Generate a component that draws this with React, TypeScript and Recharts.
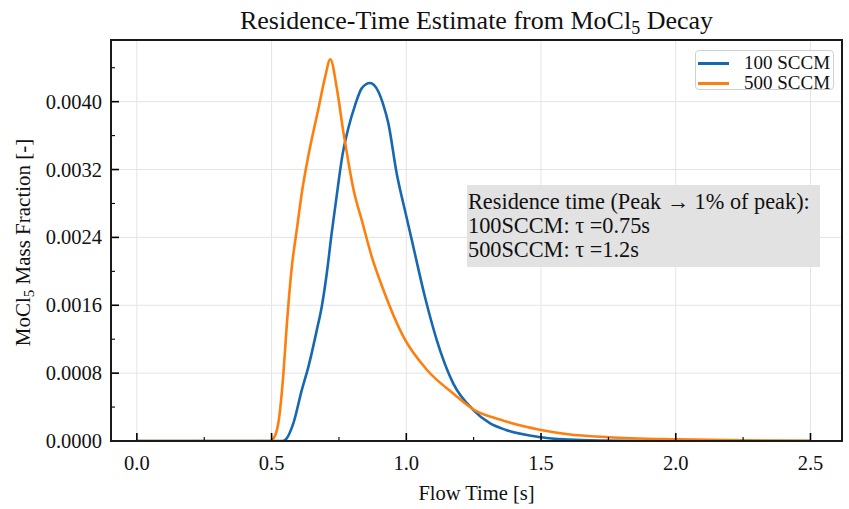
import React from "react";
import { LineChart, Line, XAxis, YAxis, CartesianGrid, Legend } from "recharts";

// ---- data ----
const series100Times = [0, 0.54, 0.55, 0.581, 0.612, 0.637, 0.668, 0.686, 0.705, 0.723, 0.742, 0.763, 0.785, 0.81, 0.835, 0.865, 0.896, 0.915, 0.933, 0.964, 1.0, 1.026, 1.069, 1.113, 1.174, 1.249, 1.31, 1.37, 1.5, 1.65, 1.8, 2.0, 2.5];
const series100Values = [0, 0, 0.00001, 0.00021, 0.0006, 0.00088, 0.00131, 0.00158, 0.00198, 0.00245, 0.0029, 0.00337, 0.00369, 0.00396, 0.00416, 0.00422, 0.00412, 0.00396, 0.00375, 0.00316, 0.00265, 0.00229, 0.0017, 0.00119, 0.00068, 0.000365, 0.00021, 0.00013, 0.000044, 0.00001, 0.000002, 0, 0];

const series500Times = [0, 0.495, 0.505, 0.525, 0.544, 0.556, 0.575, 0.594, 0.612, 0.637, 0.674, 0.698, 0.718, 0.742, 0.766, 0.785, 0.803, 0.835, 0.872, 0.915, 0.989, 1.076, 1.174, 1.25, 1.35, 1.5, 1.6, 1.75, 2.0, 2.25, 2.5];
const series500Values = [0, 0, 0.00002, 0.00021, 0.0008, 0.00135, 0.00205, 0.0025, 0.00292, 0.00337, 0.00392, 0.00428, 0.0045, 0.00416, 0.00365, 0.00329, 0.00298, 0.0026, 0.00217, 0.00178, 0.00123, 0.00084, 0.00056, 0.00037, 0.00025, 0.00013, 0.00008, 0.000045, 0.00002, 0.000008, 0.000003];

const seriesNames = ["100 SCCM", "500 SCCM"];
const seriesColors = ["#1668b0", "#ff7f0e"];

const xTickValues = [0, 0.25, 0.5, 0.75, 1.0, 1.25, 1.5, 1.75, 2.0, 2.25, 2.5];
const xMajorTicks = [0, 0.5, 1.0, 1.5, 2.0, 2.5];
const yTickSteps = [0, 1, 2, 3, 4, 5, 6, 7, 8, 9, 10, 11];
const yTickValues = yTickSteps.map((s) => (s * 4) / 10000);
const yMajorTicks = [0, 0.0008, 0.0016, 0.0024, 0.0032, 0.004];

const annotationLines = [
  "Residence time (Peak \u2192 1% of peak):",
  "100SCCM: \u03c4 =0.75s",
  "500SCCM: \u03c4 =1.2s",
];

const data100 = series100Times.map((t, i) => ({ t, v: series100Values[i] }));
const data500 = series500Times.map((t, i) => ({ t, v: series500Values[i] }));

const FONT = "'Liberation Serif', 'Times New Roman', serif";
const W = 849;
const H = 509;
const PLOT = { left: 111, top: 40, right: 842, bottom: 441 };

const isMajor = (v: number, majors: number[]) => majors.some((m) => Math.abs(m - v) < 1e-9);

const XTick = (props: any) => {
  const { x, y, payload } = props;
  const major = isMajor(payload.value, xMajorTicks);
  return (
    <g>
      <line x1={x} x2={x} y1={y} y2={y - (major ? 8 : 4)} stroke="#000" strokeWidth={major ? 1.6 : 1.1} />
      {major && (
        <text x={x} y={y + 29} textAnchor="middle" fontSize={20.5} fontFamily={FONT} fill="#111">
          {Number(payload.value).toFixed(1)}
        </text>
      )}
    </g>
  );
};

const YTick = (props: any) => {
  const { x, y, payload } = props;
  const major = isMajor(payload.value, yMajorTicks);
  return (
    <g>
      <line x1={x} x2={x + (major ? 8 : 4)} y1={y} y2={y} stroke="#000" strokeWidth={major ? 1.6 : 1.1} />
      {major && (
        <text x={x - 9} y={y + 7} textAnchor="end" fontSize={20.5} fontFamily={FONT} fill="#111">
          {Number(payload.value).toFixed(4)}
        </text>
      )}
    </g>
  );
};

const LegendBox = () => (
  <div
    style={{
      width: 139,
      height: 40,
      border: "1px solid #d0d0d0",
      borderRadius: 4,
      background: "rgba(255,255,255,0.9)",
      fontFamily: FONT,
      fontSize: 19,
      color: "#111",
      boxSizing: "border-box",
      position: "relative",
    }}
  >
    {seriesNames.map((name, i) => (
      <div key={name} style={{ position: "absolute", left: 0, top: 2 + i * 20, height: 20, width: 139 }}>
        <div style={{ position: "absolute", left: 2, top: 9, width: 31, height: 3, background: seriesColors[i] }} />
        <div style={{ position: "absolute", left: 48, top: -1, lineHeight: "22px", whiteSpace: "nowrap" }}>{name}</div>
      </div>
    ))}
  </div>
);

export default function App() {
  return (
    <div style={{ position: "fixed", left: 0, top: 0, width: W, height: H, background: "#fff" }}>
      <LineChart width={W} height={H} margin={{ top: PLOT.top, right: W - PLOT.right, left: 0, bottom: 0 }}>
        <CartesianGrid
          stroke="#e4e4e4"
          strokeWidth={1}
          horizontalValues={yMajorTicks}
          verticalValues={xMajorTicks}
        />
        <XAxis
          type="number"
          dataKey="t"
          domain={[-0.096, 2.617]}
          allowDataOverflow
          ticks={xTickValues}
          interval={0}
          tick={<XTick />}
          tickLine={false}
          axisLine={false}
          tickSize={0}
          tickMargin={0}
          height={H - PLOT.bottom}
        />
        <YAxis
          type="number"
          dataKey="v"
          domain={[0, 0.004727]}
          allowDataOverflow
          ticks={yTickValues}
          interval={0}
          tick={<YTick />}
          tickLine={false}
          axisLine={false}
          tickSize={0}
          tickMargin={0}
          width={PLOT.left}
        />
        <Line
          data={data100}
          dataKey="v"
          name={seriesNames[0]}
          type="monotone"
          stroke={seriesColors[0]}
          strokeWidth={2.6}
          dot={false}
          activeDot={false}
          isAnimationActive={false}
        />
        <Line
          data={data500}
          dataKey="v"
          name={seriesNames[1]}
          type="monotone"
          stroke={seriesColors[1]}
          strokeWidth={2.6}
          dot={false}
          activeDot={false}
          isAnimationActive={false}
        />
        <Legend
          layout="vertical"
          align="center"
          verticalAlign="middle"
          content={() => <LegendBox />}
          wrapperStyle={{ position: "absolute", left: 695, top: 50, width: 139, height: 40 }}
        />
      </LineChart>
      <svg
        width={W}
        height={H}
        style={{ position: "absolute", left: 0, top: 0, pointerEvents: "none" }}
      >
        <rect
          x={PLOT.left}
          y={PLOT.top}
          width={PLOT.right - PLOT.left}
          height={PLOT.bottom - PLOT.top}
          fill="none"
          stroke="#1a1a1a"
          strokeWidth={2}
        />
        <text x={(PLOT.left + PLOT.right) / 2} y={29} textAnchor="middle" fontSize={26} fontFamily={FONT} fill="#111">
          Residence-Time Estimate from MoCl
          <tspan fontSize={18} dy={5}>5</tspan>
          <tspan dy={-5}> Decay</tspan>
        </text>
        <text
          transform={`translate(30, ${(PLOT.top + PLOT.bottom) / 2 + 2}) rotate(-90)`}
          textAnchor="middle"
          fontSize={21}
          fontFamily={FONT}
          fill="#111"
        >
          MoCl
          <tspan fontSize={15} dy={4}>5</tspan>
          <tspan dy={-4}> Mass Fraction [-]</tspan>
        </text>
        <text x={(PLOT.left + PLOT.right) / 2} y={500} textAnchor="middle" fontSize={20.5} fontFamily={FONT} fill="#111">
          Flow Time [s]
        </text>
        <rect x={467} y={185} width={353} height={82} fill="#e2e2e2" />
        {annotationLines.map((line, i) => (
          <text key={i} x={468} y={209 + i * 24} fontSize={22.3} fontFamily={FONT} fill="#111">
            {line}
          </text>
        ))}
      </svg>
    </div>
  );
}
